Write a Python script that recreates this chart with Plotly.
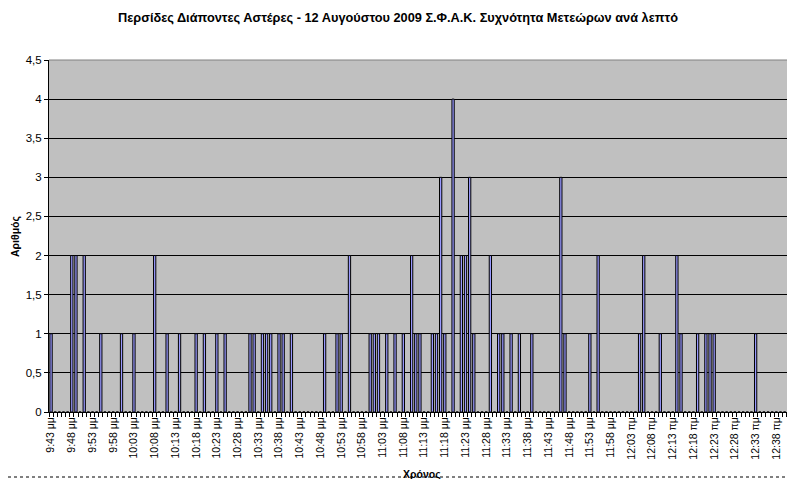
import plotly.graph_objects as go

# ---- data -------------------------------------------------------------
# one category per minute, from 9:43 μμ (21:43) onward
start_minutes = 21 * 60 + 43
n_minutes = 180
categories = []
for i in range(n_minutes):
    t = start_minutes + i
    h = (t // 60) % 24
    m = t % 60
    suffix = "μμ" if h >= 12 else "πμ"
    h12 = h % 12 or 12
    categories.append(f"{h12}:{m:02d} {suffix}")

# minutes in which meteors were observed, and their counts
meteor_times = [
    "9:43 μμ", "9:48 μμ", "9:49 μμ", "9:51 μμ", "9:55 μμ", "10:00 μμ", "10:03 μμ",
    "10:08 μμ", "10:11 μμ", "10:14 μμ", "10:18 μμ", "10:20 μμ", "10:23 μμ", "10:25 μμ",
    "10:31 μμ", "10:32 μμ", "10:34 μμ", "10:35 μμ", "10:36 μμ", "10:38 μμ", "10:39 μμ",
    "10:41 μμ", "10:49 μμ", "10:52 μμ", "10:53 μμ", "10:55 μμ", "11:00 μμ", "11:01 μμ",
    "11:02 μμ", "11:04 μμ", "11:06 μμ", "11:08 μμ", "11:10 μμ", "11:11 μμ", "11:12 μμ",
    "11:15 μμ", "11:16 μμ", "11:17 μμ", "11:18 μμ", "11:20 μμ", "11:22 μμ", "11:23 μμ",
    "11:24 μμ", "11:25 μμ", "11:29 μμ", "11:31 μμ", "11:32 μμ", "11:34 μμ", "11:36 μμ",
    "11:39 μμ", "11:46 μμ", "11:47 μμ", "11:53 μμ", "11:55 μμ", "12:05 πμ", "12:06 πμ",
    "12:10 πμ", "12:14 πμ", "12:15 πμ", "12:19 πμ", "12:21 πμ", "12:22 πμ", "12:23 πμ",
    "12:33 πμ",
]
meteor_counts = [
    1, 2, 2, 2, 1, 1, 1,
    2, 1, 1, 1, 1, 1, 1,
    1, 1, 1, 1, 1, 1, 1,
    1, 1, 1, 1, 2, 1, 1,
    1, 1, 1, 1, 2, 1, 1,
    1, 1, 3, 1, 4, 2, 2,
    3, 1, 2, 1, 1, 1, 1,
    1, 3, 1, 1, 2, 1, 2,
    1, 2, 1, 1, 1, 1, 1,
    1,
]

count_by_time = dict(zip(meteor_times, meteor_counts))
values = [count_by_time.get(c, 0) for c in categories]

# x tick labels: every 5th minute labelled
tick_text = [c if i % 5 == 0 else "" for i, c in enumerate(categories)]

y_ticks = [0, 0.5, 1, 1.5, 2, 2.5, 3, 3.5, 4, 4.5]

# ---- figure -----------------------------------------------------------
FONT = "Liberation Sans, Arial, sans-serif"

# the page body has an 8 px margin, so the figure is offset by (8, 8)
W, H = 795, 479
ML, MR, MT, MB = 41, 8, 52, 75
PW = W - ML - MR
PH = H - MT - MB

fig = go.Figure(
    go.Bar(
        x=categories,
        y=values,
        marker=dict(color="#9999FF", line=dict(color="black", width=1)),
        hoverinfo="x+y",
    )
)

fig.update_layout(
    width=W,
    height=H,
    margin=dict(l=ML, r=MR, t=MT, b=MB),
    paper_bgcolor="white",
    plot_bgcolor="#C0C0C0",
    separators=",.",
    bargap=0.45,
    showlegend=False,
    font=dict(family=FONT, size=10, color="black"),
    title=dict(
        text="Περσίδες Διάποντες Αστέρες - 12 Αυγούστου 2009 Σ.Φ.Α.Κ. Συχνότητα Μετεώρων ανά λεπτό",
        font=dict(family=FONT, size=12.75, color="black", weight="bold"),
        x=(398 - 8) / W,
        xanchor="center",
        xref="container",
        y=1 - 10 / H,
        yanchor="middle",
        yref="container",
    ),
)

fig.update_xaxes(
    type="category",
    range=[-0.5, n_minutes - 0.5],
    tickmode="array",
    tickvals=categories,
    ticktext=tick_text,
    tickson="boundaries",
    ticks="outside",
    ticklen=4,
    tickcolor="black",
    tickangle=-90,
    tickfont=dict(family=FONT, size=10.5, color="black"),
    showline=True,
    linecolor="black",
    linewidth=1,
    showgrid=False,
    zeroline=False,
    automargin=False,
)

fig.update_yaxes(
    range=[0, 4.5],
    tickmode="array",
    tickvals=y_ticks,
    ticks="outside",
    ticklen=4,
    tickcolor="black",
    tickfont=dict(family=FONT, size=11.5, color="black"),
    showline=True,
    linecolor="black",
    linewidth=1,
    showgrid=True,
    gridcolor="black",
    gridwidth=1,
    zeroline=False,
    automargin=False,
)

# axis titles
fig.add_annotation(text="<b>Αριθμός</b>", xref="paper", yref="paper",
                   x=(15 - 49) / PW, y=0.5, xanchor="center", yanchor="middle",
                   textangle=-90, showarrow=False,
                   font=dict(family=FONT, size=10.5, color="black"))
fig.add_annotation(text="<b>Χρόνος</b>", xref="paper", yref="paper",
                   x=0.5, y=-(474 - 412) / PH, xanchor="center", yanchor="middle",
                   showarrow=False,
                   font=dict(family=FONT, size=10.5, color="black"))

# plot-area top border and the dotted frame line near the bottom
fig.add_shape(type="line", xref="paper", yref="paper", x0=0, x1=1, y0=1, y1=1,
              line=dict(color="#808080", width=1))
fig.add_shape(type="line", xref="paper", yref="paper", x0=-ML / PW, x1=1,
              y0=-(477 - 412) / PH, y1=-(477 - 412) / PH,
              line=dict(color="black", width=1, dash="dot"))

fig.write_html("out.html")
